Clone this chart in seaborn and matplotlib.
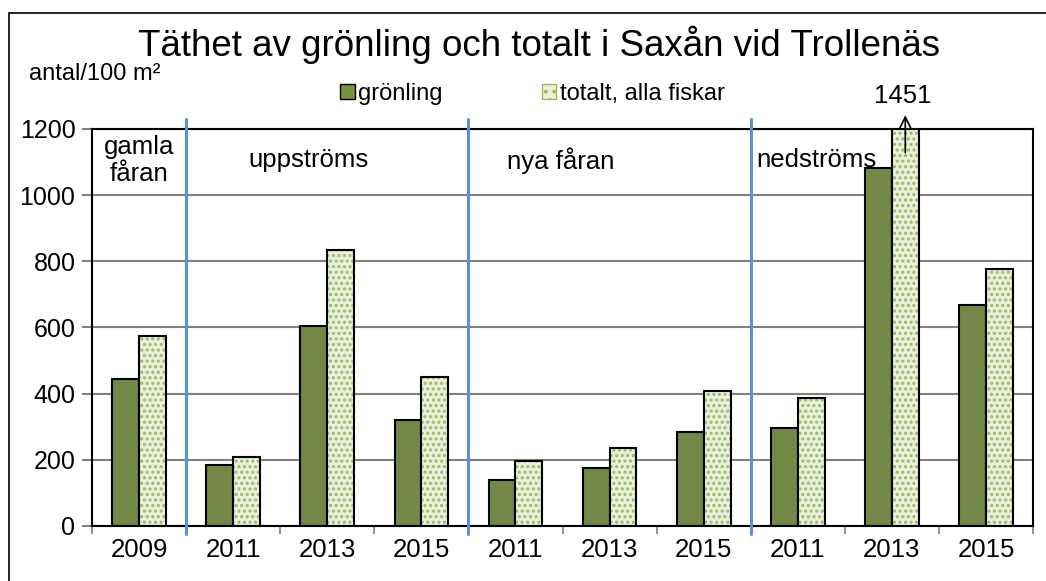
import pandas as pd
import matplotlib.pyplot as plt
import seaborn as sns
from matplotlib.patches import Patch, Rectangle

# ---- data ----
sites = ["gamla", "upp", "upp", "upp", "nya", "nya", "nya", "ned", "ned", "ned"]
years = ["2009", "2011", "2013", "2015", "2011", "2013", "2015", "2011", "2013", "2015"]
gronling = [445, 183, 605, 320, 138, 176, 285, 295, 1082, 667]
totalt = [574, 207, 833, 450, 197, 237, 407, 387, 1451, 777]

section_labels = ["gamla\nfåran", "uppströms", "nya fåran", "nedströms"]
section_xpos = [0, 1.8, 4.48, 7.2]
section_breaks = [0.5, 3.5, 6.5]

series = ["grönling", "totalt, alla fiskar"]
green = "#77933c"
light = "#ebf1de"
dots = "#9bbb59"

keys = [f"{s} {y}" for s, y in zip(sites, years)]
df = pd.DataFrame({
    "key": keys * 2,
    "serie": [series[0]] * len(keys) + [series[1]] * len(keys),
    "antal": gronling + totalt,
})

sns.set_theme(style="white")
plt.rcParams["font.family"] = ["Liberation Sans", "DejaVu Sans"]
plt.rcParams["text.color"] = "black"
plt.rcParams["hatch.linewidth"] = 1.5

fig = plt.figure(figsize=(10.46, 5.81), dpi=100)
ax = fig.add_axes([0.088, 0.0947, 0.8996, 0.6833])

sns.barplot(data=df, x="key", y="antal", hue="serie", order=keys,
            hue_order=series, palette=[green, light], width=0.57,
            edgecolor="black", linewidth=1.5, legend=False, ax=ax)

# dotted fill for totals: hatch takes the edge colour, so outline separately
for bar in ax.containers[1]:
    bar.set_hatch("...")
    bar.set_edgecolor(dots)
    bar.set_linewidth(0)
    ax.add_patch(Rectangle(bar.get_xy(), bar.get_width(), bar.get_height(),
                           fill=False, edgecolor="black", linewidth=1.5, zorder=bar.get_zorder()))

ax.set_ylim(0, 1200)
ax.set_xlim(-0.5, len(keys) - 0.5)
ax.set_yticks(range(0, 1201, 200))
ax.yaxis.grid(True, color="#808080", linewidth=1.5)
ax.set_axisbelow(True)
for sp in ax.spines.values():
    sp.set_color("black")
    sp.set_linewidth(1.5)

ax.set_xticks(range(len(keys)))
ax.set_xticklabels(years)
ax.set_xticks([i - 0.5 for i in range(len(keys) + 1)], minor=True)
ax.tick_params(axis="x", which="major", length=0, labelsize=18.5, pad=9, colors="black")
ax.tick_params(axis="x", which="minor", length=6, width=1.2, direction="out", color="#808080", bottom=True)
ax.tick_params(axis="y", which="major", length=7, width=1.5, direction="out", labelsize=18,
               colors="black", left=True, pad=5)
ax.tick_params(axis="y", which="major", color="#808080")
ax.set_xlabel("")
ax.set_ylabel("")

for xb in section_breaks:
    ax.plot([xb, xb], [-25, 1230], color="#5b8fd6", linewidth=2.2, clip_on=False, zorder=5)

for lbl, xp in zip(section_labels, section_xpos):
    ax.text(xp, 1105, lbl, ha="center", va="center", fontsize=18.5, color="black",
            linespacing=1.2)

# arrow for the clipped value
top_bar = ax.containers[1][8]
xc = top_bar.get_x() + top_bar.get_width() / 2
ax.annotate("", xy=(xc, 1250), xytext=(xc, 1120),
            arrowprops=dict(arrowstyle="->", color="black", linewidth=1.2,
                            mutation_scale=20), annotation_clip=False)
ax.text(xc - 0.03, 1300, str(totalt[8]), ha="center", va="center", fontsize=18.5)

fig.text(0.515, 0.923, "Täthet av grönling och totalt i Saxån vid Trollenäs",
         ha="center", va="center", fontsize=26.5)
fig.text(0.028, 0.873, "antal/100 m²", ha="left", va="center", fontsize=17)

handles = [Patch(facecolor=green, edgecolor="black", linewidth=1),
           Patch(facecolor=light, edgecolor=dots, hatch="..", linewidth=1)]
fig.legend(handles, series, loc="center", bbox_to_anchor=(0.509, 0.838), ncol=2,
           frameon=False, fontsize=17, columnspacing=4.2, handlelength=0.6,
           handleheight=0.6, handletextpad=0.15)

fig.patches.append(Rectangle((0.009, -0.01), 1.2, 0.988, transform=fig.transFigure,
                             fill=False, edgecolor="black", linewidth=1.2))

fig.savefig("out.png", dpi=100)
